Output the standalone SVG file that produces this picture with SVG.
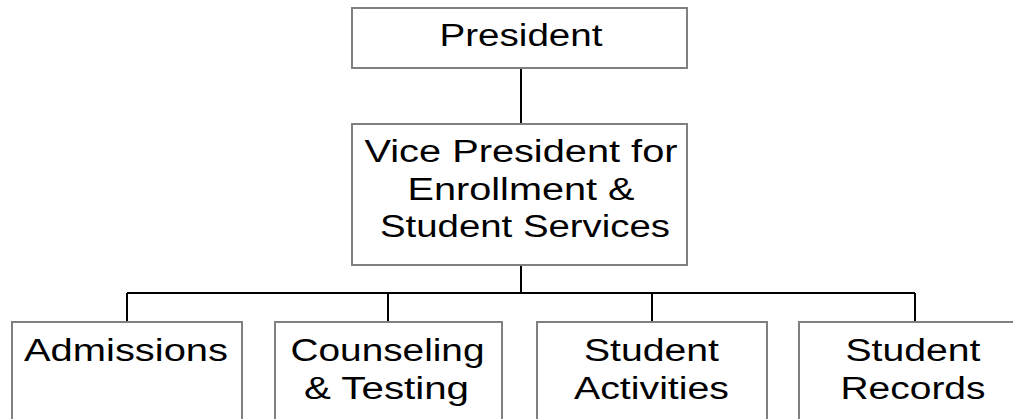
<svg xmlns="http://www.w3.org/2000/svg" width="1013" height="419" viewBox="0 0 1013 419">
<style>
.box{fill:#ffffff;stroke:#808080;stroke-width:2}
.lbl{font-family:"Liberation Sans",Arial,sans-serif;font-size:31px;fill:#000000;text-anchor:middle}
.conn{stroke:#000000;stroke-width:2;fill:none}
</style>
<rect width="1013" height="419" fill="#ffffff"/>
<g id="connectors">
<path class="conn" d="M521,68V124M521,265V293M127,293H915M127,293V322M388,293V322M652,293V322M915,293V322"/>
</g>
<g id="president">
<rect class="box" x="352" y="8" width="335" height="60"/>
<text class="lbl" x="521" y="46" textLength="163" lengthAdjust="spacingAndGlyphs">President</text>
</g>
<g id="vp">
<rect class="box" x="352" y="124" width="335" height="141"/>
<text class="lbl" x="521" y="162" textLength="313" lengthAdjust="spacingAndGlyphs">Vice President for</text>
<text class="lbl" x="521" y="200" textLength="227" lengthAdjust="spacingAndGlyphs">Enrollment &amp;</text>
<text class="lbl" x="525" y="237" textLength="290" lengthAdjust="spacingAndGlyphs">Student Services</text>
</g>
<g id="admissions">
<rect class="box" x="12" y="322" width="230" height="110"/>
<text class="lbl" x="126" y="361" textLength="204" lengthAdjust="spacingAndGlyphs">Admissions</text>
</g>
<g id="counseling">
<rect class="box" x="275" y="322" width="227" height="110"/>
<text class="lbl" x="387.5" y="361" textLength="194" lengthAdjust="spacingAndGlyphs">Counseling</text>
<text class="lbl" x="386.5" y="399" textLength="165" lengthAdjust="spacingAndGlyphs">&amp; Testing</text>
</g>
<g id="activities">
<rect class="box" x="537" y="322" width="230" height="110"/>
<text class="lbl" x="651.5" y="361" textLength="135" lengthAdjust="spacingAndGlyphs">Student</text>
<text class="lbl" x="651.5" y="399" textLength="155" lengthAdjust="spacingAndGlyphs">Activities</text>
</g>
<g id="records">
<rect class="box" x="799" y="322" width="230" height="110"/>
<text class="lbl" x="913" y="361" textLength="135" lengthAdjust="spacingAndGlyphs">Student</text>
<text class="lbl" x="913" y="399" textLength="145" lengthAdjust="spacingAndGlyphs">Records</text>
</g>
</svg>
